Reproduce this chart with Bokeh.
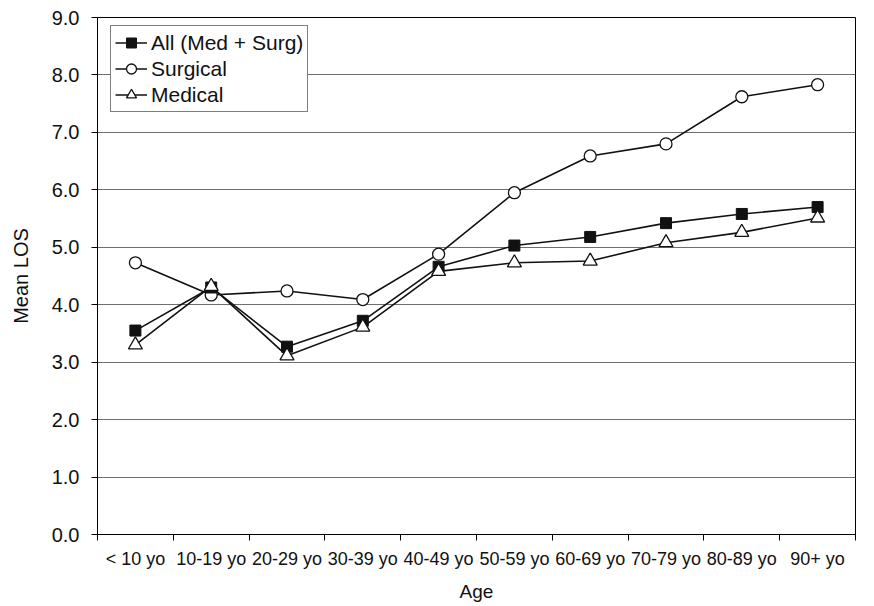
from bokeh.plotting import figure
from bokeh.models import FixedTicker, Legend, LegendItem, Range1d
from bokeh.embed import file_html
from bokeh.resources import INLINE

ages = ["< 10 yo", "10-19 yo", "20-29 yo", "30-39 yo", "40-49 yo",
        "50-59 yo", "60-69 yo", "70-79 yo", "80-89 yo", "90+ yo"]
all_vals = [3.55, 4.30, 3.27, 3.72, 4.66, 5.03, 5.18, 5.42, 5.58, 5.70]
surg_vals = [4.73, 4.17, 4.24, 4.09, 4.88, 5.95, 6.59, 6.80, 7.62, 7.83]
med_vals = [3.30, 4.32, 3.11, 3.61, 4.58, 4.73, 4.76, 5.08, 5.26, 5.51]
y_ticks = [0, 1, 2, 3, 4, 5, 6, 7, 8, 9]

FONT = "Liberation Sans"

x = [i + 0.5 for i in range(len(ages))]

p = figure(width=866, height=604, output_backend="svg", toolbar_location=None,
           x_range=Range1d(0, len(ages)), y_range=Range1d(0, 9),
           min_border_left=97, min_border_right=11, min_border_top=17, min_border_bottom=66)
p.background_fill_color = "white"
p.border_fill_color = "white"
p.outline_line_color = "black"
p.outline_line_width = 1

# x axis: labels at centers, ticks at boundaries
p.xaxis.ticker = FixedTicker(ticks=x, minor_ticks=list(range(len(ages) + 1)))
p.xaxis.major_label_overrides = {xi: a for xi, a in zip(x, ages)}
p.xaxis.major_tick_line_color = None
p.xaxis.major_tick_out = 6
p.xaxis.minor_tick_line_color = "black"
p.xaxis.minor_tick_out = 6
p.xaxis.minor_tick_in = 0
p.xaxis.axis_line_color = "black"
p.xaxis.axis_label = "Age"
p.xaxis.major_label_text_font = FONT
p.xaxis.major_label_text_font_size = "18px"
p.xaxis.major_label_text_color = "#111111"
p.xaxis.axis_label_text_font = FONT
p.xaxis.axis_label_text_font_size = "19px"
p.xaxis.axis_label_text_font_style = "normal"
p.xaxis.axis_label_text_color = "#111111"
p.xaxis.axis_label_standoff = 9
p.xaxis.major_label_standoff = 8

p.yaxis.ticker = FixedTicker(ticks=y_ticks, minor_ticks=[])
p.yaxis.major_label_overrides = {t: f"{t:.1f}" for t in y_ticks}
p.yaxis.major_tick_out = 6
p.yaxis.major_tick_in = 0
p.yaxis.major_tick_line_color = "black"
p.yaxis.axis_line_color = "black"
p.yaxis.axis_label = "Mean LOS"
p.yaxis.major_label_text_font = FONT
p.yaxis.major_label_text_font_size = "20px"
p.yaxis.major_label_text_color = "#111111"
p.yaxis.major_label_standoff = 12
p.yaxis.axis_label_text_font = FONT
p.yaxis.axis_label_text_font_size = "20px"
p.yaxis.axis_label_text_font_style = "normal"
p.yaxis.axis_label_text_color = "#111111"
p.yaxis.axis_label_standoff = 17

p.xgrid.grid_line_color = None
p.ygrid.ticker = FixedTicker(ticks=y_ticks)
p.ygrid.grid_line_color = "#6e6e6e"
p.ygrid.grid_line_width = 1

lw = 1.6
s_line = p.line(x, surg_vals, line_color="#111111", line_width=lw)
s_mark = p.scatter(x, surg_vals, marker="circle", size=12, fill_color="white",
                   line_color="#111111", line_width=1.3)
a_line = p.line(x, all_vals, line_color="#111111", line_width=lw)
a_mark = p.scatter(x, all_vals, marker="square", size=11, fill_color="#111111",
                   line_color="#111111")
m_line = p.line(x, med_vals, line_color="#111111", line_width=lw)
m_mark = p.scatter(x, med_vals, marker="triangle", size=14, fill_color="white",
                   line_color="#111111", line_width=1.3)

legend = Legend(items=[
    LegendItem(label="All (Med + Surg)", renderers=[a_line, a_mark]),
    LegendItem(label="Surgical", renderers=[s_line, s_mark]),
    LegendItem(label="Medical", renderers=[m_line, m_mark]),
], location=(13, 422))
legend.margin = 0
legend.padding = 4
legend.spacing = 1
legend.label_height = 25
legend.glyph_height = 25
legend.glyph_width = 32
legend.label_standoff = 4
legend.label_text_font = FONT
legend.label_text_font_size = "21px"
legend.label_text_color = "#111111"
legend.border_line_color = "black"
legend.border_line_width = 1
legend.background_fill_color = "white"
legend.background_fill_alpha = 1
p.add_layout(legend, "center")

open("out.html", "w").write(file_html(p, INLINE))
